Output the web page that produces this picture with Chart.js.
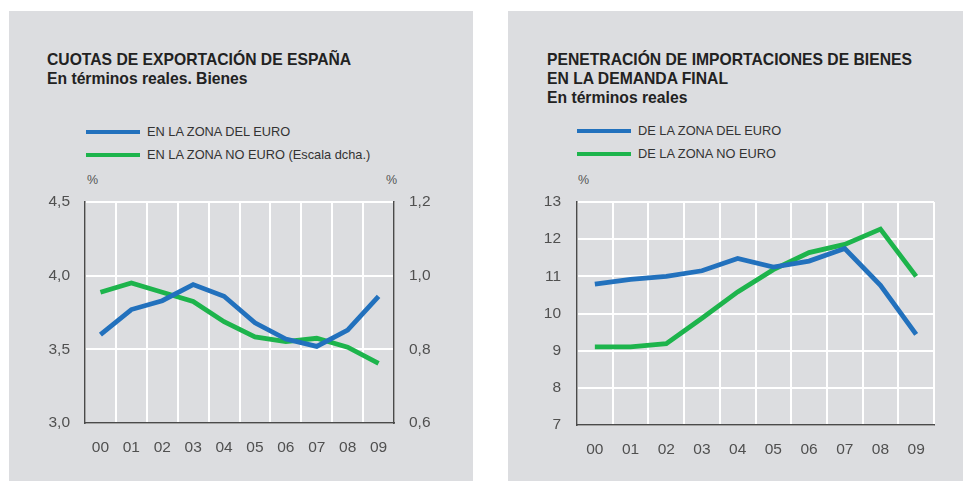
<!DOCTYPE html>
<html><head><meta charset="utf-8">
<script src="https://cdn.jsdelivr.net/npm/chart.js@4.4.1/dist/chart.umd.min.js"></script>
<style>
body{margin:0;width:963px;height:481px;background:#fff;position:relative;overflow:hidden;font-family:"Liberation Sans",Arial,sans-serif;}
.panel{position:absolute;background:#dcdde0;}
.t{position:absolute;font-weight:bold;font-size:15.7px;line-height:19px;color:#222;white-space:nowrap;}
.lg{position:absolute;font-size:12.8px;line-height:16px;color:#333;white-space:nowrap;}
.sw{position:absolute;height:4px;}
.pc{position:absolute;font-size:12.5px;line-height:16px;color:#555;}
canvas{position:absolute;}
</style></head><body>
<div class="panel" style="left:9px;top:11px;width:464px;height:470px"></div>
<div class="panel" style="left:508px;top:11px;width:455px;height:470px"></div>

<div class="t" style="left:47px;top:50px">CUOTAS DE EXPORTACIÓN DE ESPAÑA<br>En términos reales. Bienes</div>
<div class="t" style="left:547px;top:50px">PENETRACIÓN DE IMPORTACIONES DE BIENES<br>EN LA DEMANDA FINAL<br>En términos reales</div>

<div class="sw" style="left:86px;top:130px;width:54px;background:#2271bd"></div>
<div class="lg" style="left:147px;top:124px">EN LA ZONA DEL EURO</div>
<div class="sw" style="left:86px;top:153px;width:54px;background:#1db44c"></div>
<div class="lg" style="left:147px;top:147px">EN LA ZONA NO EURO (Escala dcha.)</div>

<div class="sw" style="left:577px;top:129px;width:54px;background:#2271bd"></div>
<div class="lg" style="left:638px;top:123px">DE LA ZONA DEL EURO</div>
<div class="sw" style="left:577px;top:152px;width:54px;background:#1db44c"></div>
<div class="lg" style="left:638px;top:146px">DE LA ZONA NO EURO</div>

<div class="pc" style="left:87px;top:172px">%</div>
<div class="pc" style="left:386px;top:172px">%</div>
<div class="pc" style="left:578px;top:172px">%</div>

<canvas id="c1" width="464" height="311" style="left:9px;top:170px;width:464px;height:311px"></canvas>
<canvas id="c2" width="455" height="311" style="left:508px;top:170px;width:455px;height:311px"></canvas>
<script>
const years = ['00','01','02','03','04','05','06','07','08','09'];
const cuotaEuro = [3.60,3.77,3.83,3.94,3.86,3.68,3.57,3.52,3.63,3.86];
const cuotaNoEuro = [0.955,0.98,0.955,0.93,0.875,0.834,0.821,0.83,0.806,0.762];
const penetEuro = [10.79,10.92,11.0,11.15,11.48,11.25,11.41,11.75,10.76,9.44];
const penetNoEuro = [9.10,9.10,9.19,9.87,10.58,11.18,11.64,11.86,12.27,11.0];
const cuotaLeftTicks = [3.0,3.5,4.0,4.5];
const cuotaRightTicks = [0.6,0.8,1.0,1.2];
const penetTicks = [7,8,9,10,11,12,13];

const BLUE='#2271bd', GREEN='#1db44c', AXIS='#4a4a4a', TXT='#505050';
const tickFont={family:'"Liberation Sans",Arial,sans-serif',size:15.5};
const comma=(d)=>(v)=>v.toFixed(d).replace('.',',');
function fixedTicks(arr){return (s)=>{s.ticks=arr.map(v=>({value:v}));};}

function xScale(h){
  return {type:'category',offset:true,
    grid:{offset:true,color:'#fff',lineWidth:2,drawTicks:false},
    border:{display:true,color:AXIS,width:1.5},
    ticks:{font:tickFont,color:TXT,padding:15,maxRotation:0,autoSkip:false},
    afterFit:(s)=>{s.height=h;}};
}
function ds(label,data,color,axis){
  return {label,data,borderColor:color,backgroundColor:color,borderWidth:4.8,pointRadius:0,tension:0,yAxisID:axis,fill:false};
}
const common={responsive:false,animation:false,devicePixelRatio:1,
  plugins:{legend:{display:false},tooltip:{enabled:false}},events:[]};

new Chart(document.getElementById('c1'),{type:'line',
  data:{labels:years,datasets:[ds('EN LA ZONA DEL EURO',cuotaEuro,BLUE,'y'),ds('EN LA ZONA NO EURO (Escala dcha.)',cuotaNoEuro,GREEN,'y1')]},
  options:Object.assign({},common,{layout:{padding:{top:32,left:0,right:0,bottom:0}},
    scales:{x:xScale(58),
      y:{position:'left',min:cuotaLeftTicks[0],max:cuotaLeftTicks[cuotaLeftTicks.length-1],afterBuildTicks:fixedTicks(cuotaLeftTicks),
        grid:{color:'#fff',lineWidth:2,drawTicks:false},border:{display:true,color:AXIS,width:1.5},
        ticks:{font:tickFont,color:TXT,padding:15,callback:comma(1)},afterFit:(s)=>{s.width=76;}},
      y1:{position:'right',min:cuotaRightTicks[0],max:cuotaRightTicks[cuotaRightTicks.length-1],afterBuildTicks:fixedTicks(cuotaRightTicks),
        grid:{drawOnChartArea:false,drawTicks:false},border:{display:true,color:AXIS,width:1.5},
        ticks:{font:tickFont,color:TXT,padding:15,callback:comma(1)},afterFit:(s)=>{s.width=79;}}
    }})
});

new Chart(document.getElementById('c2'),{type:'line',
  data:{labels:years,datasets:[ds('DE LA ZONA DEL EURO',penetEuro,BLUE,'y'),ds('DE LA ZONA NO EURO',penetNoEuro,GREEN,'y')]},
  options:Object.assign({},common,{layout:{padding:{top:32,left:0,right:29,bottom:0}},
    scales:{x:xScale(56),
      y:{position:'left',min:penetTicks[0],max:penetTicks[penetTicks.length-1],afterBuildTicks:fixedTicks(penetTicks),
        grid:{color:'#fff',lineWidth:2,drawTicks:false},border:{display:true,color:AXIS,width:1.5},
        ticks:{font:tickFont,color:TXT,padding:16,callback:comma(0)},afterFit:(s)=>{s.width=69;}}
    }})
});
</script>
</body></html>
